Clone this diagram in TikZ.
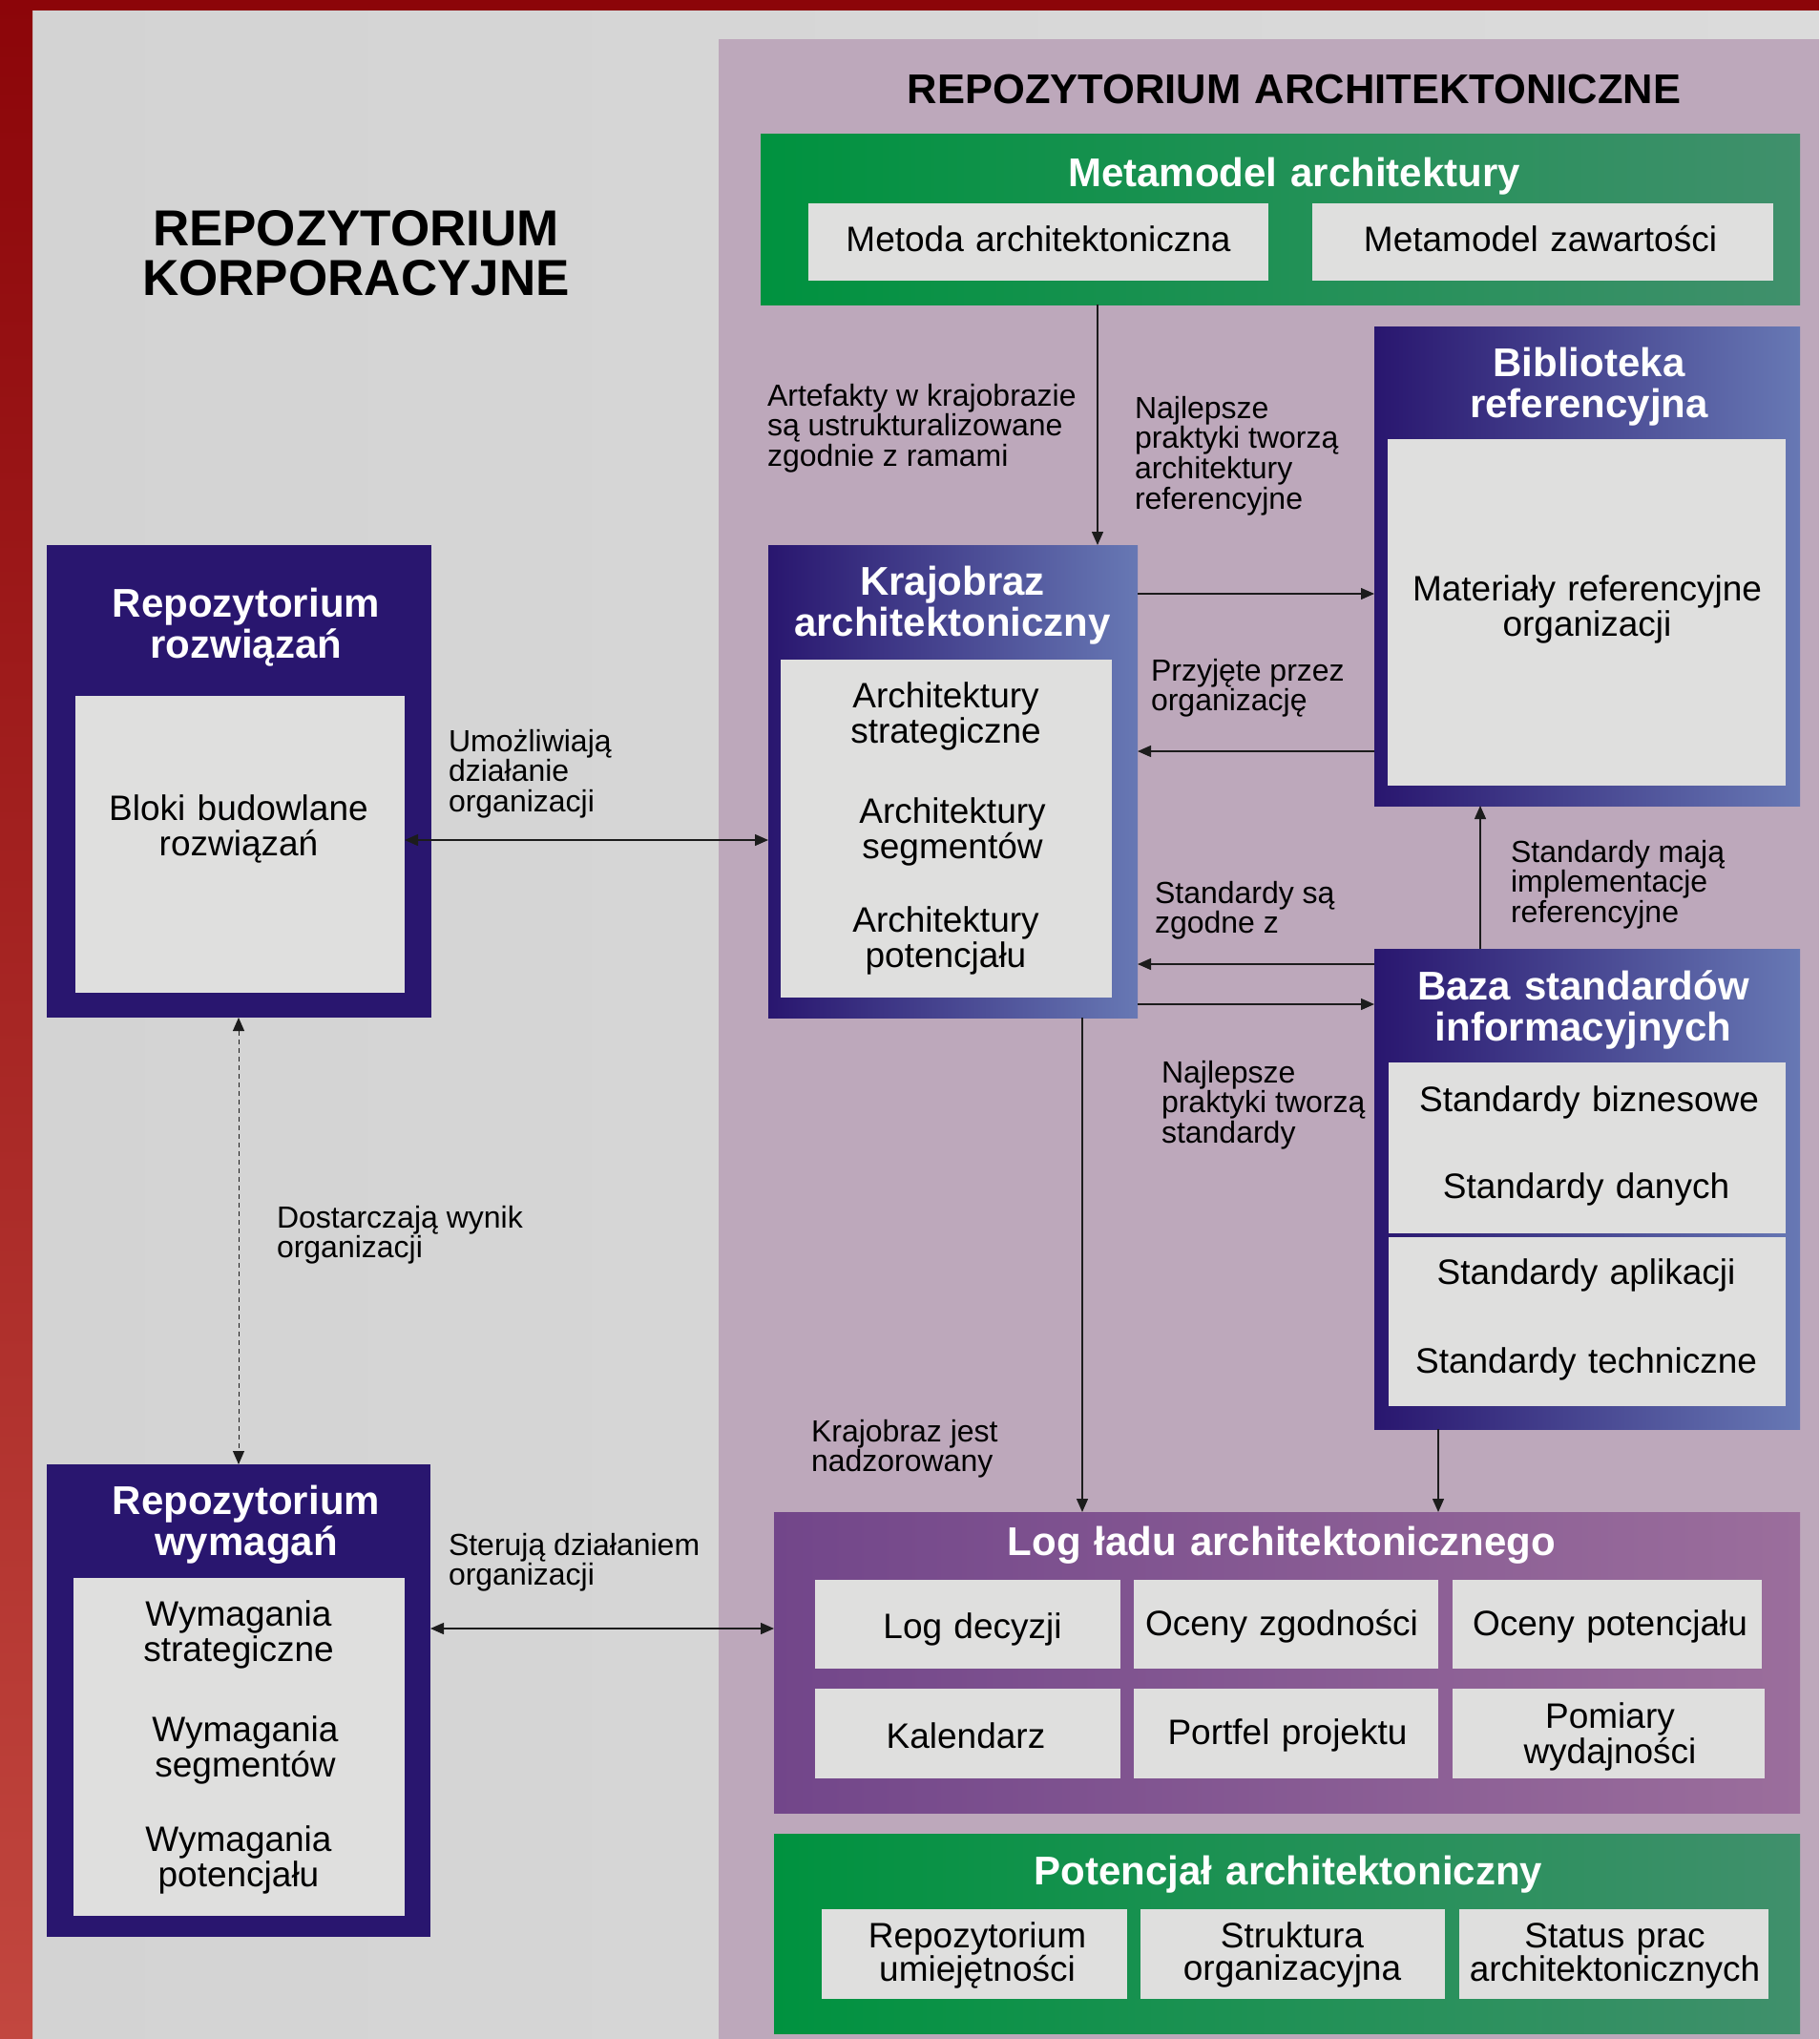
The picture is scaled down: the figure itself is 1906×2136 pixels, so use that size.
\documentclass[tikz,border=0pt]{standalone}
\usepackage{fontspec}
\setmainfont{Liberation Sans}
\usetikzlibrary{arrows.meta}

\definecolor{darkred}{HTML}{8C0509}
\definecolor{lightred}{HTML}{C2473F}
\definecolor{bggray}{HTML}{D3D3D3}
\definecolor{bggrayr}{HTML}{DBDBDB}
\definecolor{panel}{HTML}{BDA8BB}
\definecolor{navy}{HTML}{29166F}
\definecolor{navylight}{HTML}{6778B4}
\definecolor{cell}{HTML}{DFDFDE}
\definecolor{greenl}{HTML}{00923F}
\definecolor{greenr}{HTML}{40906C}
\definecolor{logl}{HTML}{72468A}
\definecolor{logr}{HTML}{9B6E9C}
\definecolor{linegray}{HTML}{1C1C1C}
\lineskiplimit=-50pt

\begin{document}
\begin{tikzpicture}[x=1pt,y=-1pt,
  every node/.style={inner sep=0pt,outer sep=0pt},
  box/.style={anchor=north west},
  cellbox/.style={box,fill=cell},
  navybox/.style={box,left color=navy,right color=navylight},
  solidnavy/.style={box,fill=navy},
  greenbox/.style={box,left color=greenl,right color=greenr},
  logbox/.style={box,left color=logl,right color=logr},
  headtxt/.style={anchor=base,text width=900pt,align=center,font=\fontsize{43.5}{52}\selectfont\bfseries},
  boxtitle/.style={anchor=base,text width=900pt,align=center,text=white,font=\fontsize{42}{43}\selectfont\bfseries},
  celltxt/.style={anchor=base,text width=500pt,align=center,font=\fontsize{37}{37}\selectfont},
  note/.style={anchor=base west,text width=420pt,align=flush left,font=\fontsize{32}{31.7}\selectfont},
  conn/.style={draw=linegray,line width=1.4pt,-{Triangle[length=14pt,width=12pt]}},
  conn2/.style={conn,{Triangle[length=14pt,width=12pt]}-{Triangle[length=14pt,width=12pt]}},
  dashconn/.style={conn2,line width=1pt,dash pattern=on 5pt off 4pt}]
  \useasboundingbox (0,0) rectangle (1906,2136);

  \shade[left color=bggray,right color=bggrayr] (34,11) rectangle (1906,2136);
  \shade[top color=darkred,bottom color=lightred] (0,0) rectangle (34,2136);
  \fill[darkred] (0,0) rectangle (1906,11);
  \fill[panel] (753,41) rectangle (1906,2136);

  \node[headtxt] (archhead) at (1356,108) {REPOZYTORIUM ARCHITEKTONICZNE};
  \node[headtxt,font=\fontsize{53}{52}\selectfont\bfseries] (korphead) at (373,257) {REPOZYTORIUM\\KORPORACYJNE};

  \node[greenbox,minimum width=1089pt,minimum height=179pt] (meta) at (797,140) {};
  \node[cellbox,minimum width=482pt,minimum height=81pt] (metoda) at (847,213) {};
  \node[cellbox,minimum width=483pt,minimum height=81pt] (zawart) at (1375,213) {};
  \node[boxtitle] (metatitle) at (1356,195) {Metamodel architektury};
  \node[celltxt] (metodatxt) at (1088,263) {Metoda architektoniczna};
  \node[celltxt] (zawarttxt) at (1614,263) {Metamodel zawartości};

  \node[navybox,minimum width=446pt,minimum height=502pt] (biblio) at (1440,342) {};
  \node[cellbox,minimum width=417pt,minimum height=363pt] (biblioin) at (1454,460) {};
  \node[boxtitle] (bibliotitle) at (1665,394) {Biblioteka\\referencyjna};
  \node[celltxt] (bibliotxt) at (1663,629) {Materiały referencyjne\\organizacji};

  \node[navybox,minimum width=387pt,minimum height=495pt] (kraj) at (805,571) {};
  \node[cellbox,minimum width=347pt,minimum height=354pt] (krajin) at (818,691) {};
  \node[boxtitle] (krajtitle) at (998,623) {Krajobraz\\architektoniczny};
  \node[celltxt] (strattxt) at (991,741) {Architektury\\strategiczne};
  \node[celltxt] (segtxt) at (998,862) {Architektury\\segmentów};
  \node[celltxt] (pottxt) at (991,976) {Architektury\\potencjału};

  \node[solidnavy,minimum width=403pt,minimum height=495pt] (rozw) at (49,571) {};
  \node[cellbox,minimum width=345pt,minimum height=311pt] (rozwin) at (79,729) {};
  \node[boxtitle] (rozwtitle) at (258,646) {Repozytorium\\rozwiązań};
  \node[celltxt] (rozwtxt) at (250,859) {Bloki budowlane\\rozwiązań};

  \node[navybox,minimum width=446pt,minimum height=503pt] (baza) at (1440,994) {};
  \node[cellbox,minimum width=416pt,minimum height=179pt] (bazaup) at (1455,1113) {};
  \node[cellbox,minimum width=416pt,minimum height=177pt] (bazalow) at (1455,1296) {};
  \node[boxtitle] (bazatitle) at (1659,1047) {Baza standardów\\informacyjnych};
  \node[celltxt] (biztxt) at (1665,1164) {Standardy biznesowe};
  \node[celltxt] (dantxt) at (1662,1255) {Standardy danych};
  \node[celltxt] (apltxt) at (1662,1345) {Standardy aplikacji};
  \node[celltxt] (techtxt) at (1662,1438) {Standardy techniczne};

  \node[solidnavy,minimum width=402pt,minimum height=495pt] (wym) at (49,1534) {};
  \node[cellbox,minimum width=347pt,minimum height=354pt] (wymin) at (77,1653) {};
  \node[boxtitle] (wymtitle) at (258,1586) {Repozytorium\\wymagań};
  \node[celltxt] (wstrattxt) at (250,1703) {Wymagania\\strategiczne};
  \node[celltxt] (wsegtxt) at (257,1824) {Wymagania\\segmentów};
  \node[celltxt] (wpottxt) at (250,1939) {Wymagania\\potencjału};

  \node[logbox,minimum width=1075pt,minimum height=315pt] (log) at (811,1584) {};
  \node[cellbox,minimum width=320pt,minimum height=93pt] (decyzje) at (854,1655) {};
  \node[cellbox,minimum width=319pt,minimum height=93pt] (zgodnosc) at (1188,1655) {};
  \node[cellbox,minimum width=324pt,minimum height=93pt] (ocenypot) at (1522,1655) {};
  \node[cellbox,minimum width=320pt,minimum height=94pt] (kalendarz) at (854,1769) {};
  \node[cellbox,minimum width=319pt,minimum height=94pt] (portfel) at (1188,1769) {};
  \node[cellbox,minimum width=327pt,minimum height=94pt] (pomiary) at (1522,1769) {};
  \node[boxtitle] (logtitle) at (1343,1629) {Log ładu architektonicznego};
  \node[celltxt] (decyzjetxt) at (1019,1716) {Log decyzji};
  \node[celltxt] (zgodnosctxt) at (1343,1713) {Oceny zgodności};
  \node[celltxt] (ocenypottxt) at (1687,1713) {Oceny potencjału};
  \node[celltxt] (kalendarztxt) at (1012,1831) {Kalendarz};
  \node[celltxt] (portfeltxt) at (1349,1827) {Portfel projektu};
  \node[celltxt] (pomiarytxt) at (1687,1810) {Pomiary\\wydajności};

  \node[greenbox,minimum width=1075pt,minimum height=209pt] (potenc) at (811,1921) {};
  \node[cellbox,minimum width=320pt,minimum height=94pt] (umiej) at (861,2000) {};
  \node[cellbox,minimum width=319pt,minimum height=94pt] (strukt) at (1195,2000) {};
  \node[cellbox,minimum width=324pt,minimum height=94pt] (status) at (1529,2000) {};
  \node[boxtitle] (potenctitle) at (1350,1974) {Potencjał architektoniczny};
  \node[celltxt,font=\fontsize{37}{34}\selectfont] (umiejtxt) at (1024,2040) {Repozytorium\\umiejętności};
  \node[celltxt,font=\fontsize{37}{34}\selectfont] (strukttxt) at (1354,2040) {Struktura\\organizacyjna};
  \node[celltxt,font=\fontsize{37}{34}\selectfont] (statustxt) at (1692,2040) {Status prac\\architektonicznych};

  \node[note] (artnote) at (804,425) {Artefakty w krajobrazie\\są ustrukturalizowane\\zgodnie z ramami};
  \node[note] (najnote) at (1189,438) {Najlepsze\\praktyki tworzą\\architektury\\referencyjne};
  \node[note] (przynote) at (1206,713) {Przyjęte przez\\organizację};
  \node[note] (zgodnote) at (1210,946) {Standardy są\\zgodne z};
  \node[note] (implnote) at (1583,903) {Standardy mają\\implementacje\\referencyjne};
  \node[note] (stdnote) at (1217,1134) {Najlepsze\\praktyki tworzą\\standardy};
  \node[note] (umoznote) at (470,787) {Umożliwiają\\działanie\\organizacji};
  \node[note] (dostnote) at (290,1286) {Dostarczają wynik\\organizacji};
  \node[note] (sternote) at (470,1629) {Sterują działaniem\\organizacji};
  \node[note] (nadznote) at (850,1510) {Krajobraz jest\\nadzorowany};

  \draw[conn] (meta.south -| 1150,0) -- (kraj.north -| 1150,0);
  \draw[conn] (kraj.east |- 0,622) -- (biblio.west |- 0,622);
  \draw[conn] (biblio.west |- 0,787) -- (kraj.east |- 0,787);
  \draw[conn] (baza.west |- 0,1010) -- (kraj.east |- 0,1010);
  \draw[conn] (kraj.east |- 0,1052) -- (baza.west |- 0,1052);
  \draw[conn] (baza.north -| 1551,0) -- (biblio.south -| 1551,0);
  \draw[conn] (kraj.south -| 1134,0) -- (log.north -| 1134,0);
  \draw[conn] (baza.south -| 1507,0) -- (log.north -| 1507,0);
  \draw[conn2] (rozwin.east |- 0,880) -- (kraj.west |- 0,880);
  \draw[dashconn] (rozw.south -| 250,0) -- (wym.north -| 250,0);
  \draw[conn2] (wym.east |- 0,1706) -- (log.west |- 0,1706);
\end{tikzpicture}
\end{document}
